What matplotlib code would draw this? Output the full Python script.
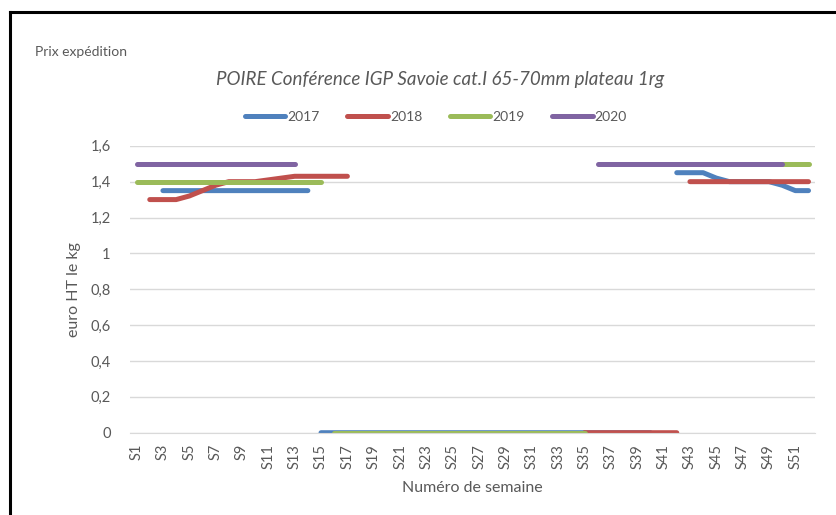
import matplotlib
matplotlib.use("Agg")
import matplotlib.pyplot as plt
from matplotlib.lines import Line2D
import numpy as np

nan = np.nan

# semaines S1..S52
semaines = [f"S{i}" for i in range(1, 53)]

# prix expédition (euro HT le kg), nan = pas de cotation
prix_2017 = [nan, nan, 1.35, 1.35, 1.35, 1.35, 1.35, 1.35, 1.35, 1.35,
             1.35, 1.35, 1.35, 1.35, 0, 0, 0, 0, 0, 0,
             0, 0, 0, 0, 0, 0, 0, 0, 0, 0,
             0, 0, 0, 0, 0, 0, 0, 0, 0, 0,
             nan, 1.45, 1.45, 1.45, 1.42, 1.40, 1.40, 1.40, 1.40, 1.38,
             1.35, 1.35]
prix_2018 = [nan, 1.30, 1.30, 1.30, 1.32, 1.35, 1.38, 1.40, 1.40, 1.40,
             1.41, 1.42, 1.43, 1.43, 1.43, 1.43, 1.43, nan, nan, nan,
             nan, nan, nan, nan, nan, nan, nan, nan, nan, nan,
             nan, nan, nan, nan, 0, 0, 0, 0, 0, 0,
             0, 0, 1.40, 1.40, 1.40, 1.40, 1.40, 1.40, 1.40, 1.40,
             1.40, 1.40]
prix_2019 = [1.40, 1.40, 1.40, 1.40, 1.40, 1.40, 1.40, 1.40, 1.40, 1.40,
             1.40, 1.40, 1.40, 1.40, 1.40, 0, 0, 0, 0, 0,
             0, 0, 0, 0, 0, 0, 0, 0, 0, 0,
             0, 0, 0, 0, 0, nan, nan, nan, nan, nan,
             nan, nan, nan, nan, nan, nan, 1.50, 1.50, 1.50, 1.50,
             1.50, 1.50]
prix_2020 = [1.50, 1.50, 1.50, 1.50, 1.50, 1.50, 1.50, 1.50, 1.50, 1.50,
             1.50, 1.50, 1.50, nan, nan, nan, nan, nan, nan, nan,
             nan, nan, nan, nan, nan, nan, nan, nan, nan, nan,
             nan, nan, nan, nan, nan, 1.50, 1.50, 1.50, 1.50, 1.50,
             1.50, 1.50, 1.50, 1.50, 1.50, 1.50, 1.50, 1.50, 1.50, 1.50,
             nan, nan]

series = [("2017", prix_2017, "#4f81bd"),
          ("2018", prix_2018, "#c0504d"),
          ("2019", prix_2019, "#9bbb59"),
          ("2020", prix_2020, "#8064a2")]


def coupe_sauts(xs, ys, seuil=0.5):
    # pas de trait entre un prix et un zéro (semaines sans cotation)
    xo, yo = [xs[0]], [ys[0]]
    for i in range(1, len(xs)):
        if abs(ys[i] - ys[i - 1]) > seuil:
            xo.append((xs[i] + xs[i - 1]) / 2)
            yo.append(nan)
        xo.append(xs[i])
        yo.append(ys[i])
    return xo, yo


plt.rcParams["font.family"] = ["Lato", "DejaVu Sans"]
gris = "#595959"

fig = plt.figure(figsize=(8.36, 5.15), dpi=100)
ax = fig.add_axes([0.1555, 0.1598, 0.975 - 0.1555, 0.7169 - 0.1598])

x = np.arange(1, 53)
for annee, valeurs, couleur in series:
    xs, ys = coupe_sauts(list(x), valeurs)
    ax.plot(xs, ys, color=couleur, lw=3.6, solid_capstyle="round",
            solid_joinstyle="round", label=annee)

ax.set_xlim(0.5, 52.5)
ax.set_ylim(0, 1.6)
ax.set_yticks(np.arange(0, 1.61, 0.2))
ax.set_yticklabels(["0", "0,2", "0,4", "0,6", "0,8", "1", "1,2", "1,4", "1,6"])
ax.set_xticks(x[::2])
ax.set_xticklabels(semaines[::2], rotation=90)
ax.tick_params(length=0, colors=gris, labelsize=10.5)
ax.tick_params(axis="x", pad=8)
ax.tick_params(axis="y", pad=14)
ax.grid(axis="y", color="#d9d9d9", lw=1)
ax.set_axisbelow(True)
for s in ["top", "right", "left"]:
    ax.spines[s].set_visible(False)
ax.spines["bottom"].set_color("#d9d9d9")

ax.set_ylabel("euro HT le kg", color=gris, fontsize=11.5, labelpad=7)
ax.set_xlabel("Numéro de semaine", color=gris, fontsize=11.5, labelpad=9)

fig.text(440 / 836, 1 - 80 / 515, "POIRE Conférence IGP Savoie cat.I 65-70mm plateau 1rg",
         ha="center", va="center", style="italic", fontsize=13.5, color=gris)
fig.text(35 / 836, 1 - 52 / 515, "Prix expédition", ha="left", va="center",
         fontsize=10, color=gris)

ax.legend(loc="center", bbox_to_anchor=(436 / 836, 1 - 117 / 515),
          bbox_transform=fig.transFigure, ncol=4, frameon=False,
          handlelength=2.9, handletextpad=0.15, columnspacing=2.0,
          labelcolor=gris, fontsize=10)

# cadre du graphique (coin haut gauche visible)
fig.add_artist(Line2D([10 / 836, 1], [1 - 12 / 515] * 2, color="black", lw=2.2))
fig.add_artist(Line2D([10 / 836] * 2, [0, 1 - 12 / 515], color="black", lw=2.2))

fig.savefig("out.png", dpi=100)
